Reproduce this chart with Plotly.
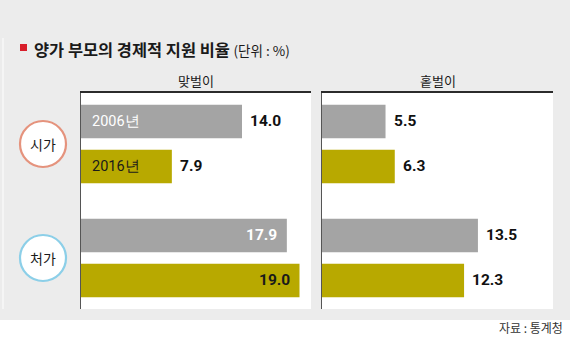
import plotly.graph_objects as go

# ---- data ----
groups = ["시가", "처가"]
years = ["2006년", "2016년"]
panels = ["맞벌이", "홑벌이"]
dual_2006 = [14.0, 17.9]
dual_2016 = [7.9, 19.0]
single_2006 = [5.5, 13.5]
single_2016 = [6.3, 12.3]

# ---- layout constants ----
W, H = 570, 337
BG = "#ececec"
GRAY = "#a4a4a4"
OLIVE = "#b8a900"
KR = "Noto Sans CJK KR"
NUM = "Roboto"

BAR_STEP = 1.0
GROUP_STEP = 2.533
BAR_W = 0.745
Y_RANGE = [4.167, -0.633]
X_RANGE = [0, 20]
INSIDE_MIN = 15  # values above this get their label inside the bar


def px_x(x):
    return x / W


def px_y(y):
    return 1 - y / H


def pos(g, s):
    return g * GROUP_STEP + s * BAR_STEP


panel_series = [
    (dual_2006, dual_2016),
    (single_2006, single_2016),
]
x_domains = [[px_x(81), px_x(311)], [px_x(322), px_x(553)]]
y_domain = [px_y(309), px_y(93)]
colors = [GRAY, OLIVE]
inside_text_colors = ["white", "#1a1a1a"]

fig = go.Figure()
annotations = []

for p, series in enumerate(panel_series):
    xa = "x" if p == 0 else "x2"
    ya = "y" if p == 0 else "y2"
    for s, vals in enumerate(series):
        fig.add_trace(go.Bar(
            orientation="h",
            x=vals,
            y=[pos(g, s) for g in range(len(groups))],
            width=BAR_W,
            marker=dict(color=colors[s], line=dict(width=0)),
            xaxis=xa, yaxis=ya,
            hoverinfo="skip",
            showlegend=False,
        ))
        for g, v in enumerate(vals):
            inside = v > INSIDE_MIN
            annotations.append(dict(
                xref=xa, yref=ya, x=v, y=pos(g, s),
                text=f"<b>{v:.1f}</b>", showarrow=False,
                xanchor="right" if inside else "left",
                xshift=-8 if inside else 6,
                font=dict(family=NUM, size=15.5,
                          color=inside_text_colors[s] if inside else "#111"),
            ))
            # year labels on the first group of the first panel
            if p == 0 and g == 0:
                annotations.append(dict(
                    xref=xa, yref=ya, x=0, y=pos(g, s),
                    text=years[s], showarrow=False,
                    xanchor="left", xshift=9,
                    font=dict(family=NUM, size=14.5,
                              color=inside_text_colors[s]),
                ))
    # panel header
    annotations.append(dict(
        xref="paper", yref="paper",
        x=sum(x_domains[p]) / 2, y=px_y(80),
        text=panels[p], showarrow=False, xanchor="center", yanchor="middle",
        font=dict(family=KR, size=13, color="#1a1a1a"),
    ))

axis_common = dict(range=X_RANGE, showgrid=False, zeroline=False,
                   showticklabels=False, ticks="", side="top",
                   showline=True, linecolor="#2b2b2b", linewidth=2,
                   fixedrange=True)
yaxis_common = dict(range=Y_RANGE, showgrid=False, zeroline=False,
                    showticklabels=False, ticks="",
                    showline=True, linecolor="#555", linewidth=1,
                    fixedrange=True, domain=y_domain)

# group circles
circle_colors = ["#e5937d", "#8ccfe8"]
shapes = []
for g, name in enumerate(groups):
    cy = 121.5 + 45 * (pos(g, 0) + pos(g, 1)) / 2
    cx, r = 43, 23
    shapes.append(dict(
        type="circle", xref="paper", yref="paper",
        x0=px_x(cx - r), x1=px_x(cx + r), y0=px_y(cy + r), y1=px_y(cy - r),
        fillcolor="white", line=dict(color=circle_colors[g], width=2.2),
        layer="above",
    ))
    annotations.append(dict(
        xref="paper", yref="paper", x=px_x(cx), y=px_y(cy),
        text=name, showarrow=False, xanchor="center", yanchor="middle",
        font=dict(family=KR, size=14, color="#1a1a1a"),
    ))

# white strip at the bottom of the page
shapes.append(dict(type="rect", xref="paper", yref="paper",
                   x0=0, x1=1, y0=0, y1=px_y(320),
                   fillcolor="white", line=dict(width=0), layer="below"))
# faint edge line on the left
shapes.append(dict(type="line", xref="paper", yref="paper",
                   x0=px_x(3), x1=px_x(3), y0=px_y(309), y1=px_y(38),
                   line=dict(color="#f8f8f8", width=1.5), layer="below"))
# red title marker
shapes.append(dict(type="rect", xref="paper", yref="paper",
                   x0=px_x(20), x1=px_x(27), y0=px_y(51), y1=px_y(44),
                   fillcolor="#d81e2a", line=dict(width=0)))

annotations.append(dict(
    xref="paper", yref="paper", x=px_x(32), y=px_y(49),
    xanchor="left", yanchor="middle", showarrow=False,
    text="<b>양가 부모의 경제적 지원 비율</b> "
         "<span style='font-size:13.5px;font-weight:normal'>(단위 : %)</span>",
    font=dict(family=KR, size=16.4, color="#1a1a1a"),
))
annotations.append(dict(
    xref="paper", yref="paper", x=px_x(565), y=px_y(327),
    xanchor="right", yanchor="middle", showarrow=False,
    text="자료 : 통계청",
    font=dict(family=KR, size=12, color="#333"),
))

fig.update_layout(
    width=W, height=H,
    margin=dict(l=0, r=0, t=0, b=0),
    paper_bgcolor=BG, plot_bgcolor="white",
    barmode="overlay",
    xaxis=dict(domain=x_domains[0], anchor="y", **axis_common),
    yaxis=dict(anchor="x", **yaxis_common),
    xaxis2=dict(domain=x_domains[1], anchor="y2", **axis_common),
    yaxis2=dict(anchor="x2", **yaxis_common),
    shapes=shapes,
    annotations=annotations,
)

fig.write_html("out.html", config={"displayModeBar": False})
